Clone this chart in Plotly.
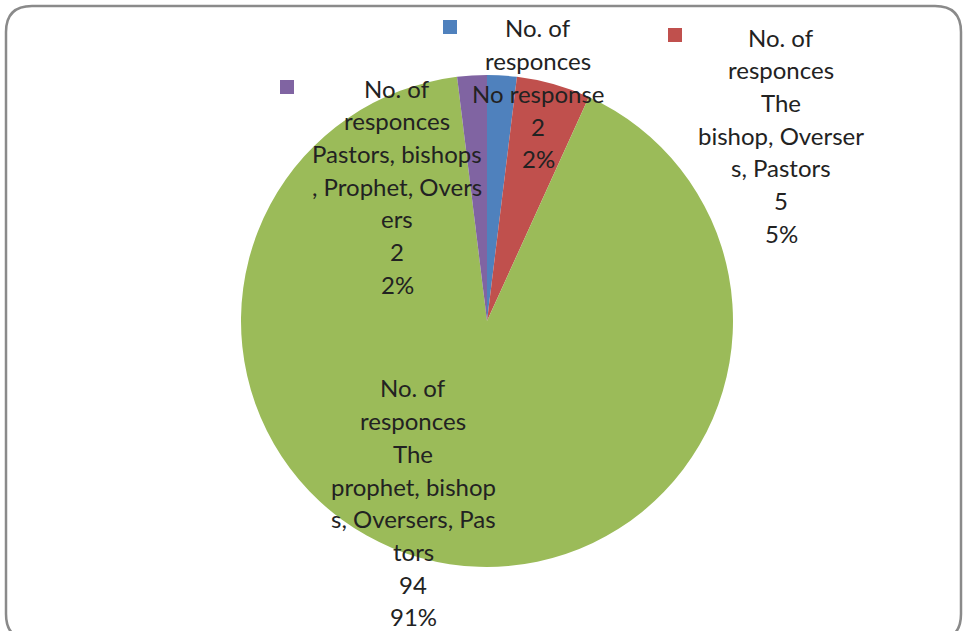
import plotly.graph_objects as go

# ---- data ----
series_name = "No. of responces"
categories = [
    "No response",
    "The bishop, Oversers, Pastors",
    "The prophet, bishops, Oversers, Pastors",
    "Pastors, bishops, Prophet, Oversers",
]
values = [2, 5, 94, 2]
colors = ["#4F81BD", "#C0504D", "#9BBB59", "#8064A2"]
# label text as wrapped in the original chart
series_lines = ["No. of", "responces"]
category_lines = [
    ["No response"],
    ["The", "bishop, Overser", "s, Pastors"],
    ["The", "prophet, bishop", "s, Oversers, Pas", "tors"],
    ["Pastors, bishops", ", Prophet, Overs", "ers"],
]

# ---- layout constants (pixels) ----
W, H = 963, 631
cx, cy, r = 487, 321, 246
label_pos = [(538, 28), (781, 37), (413, 388), (397, 88)]  # center x, first line y
marker_pos = [(450, 27), (675, 35), None, (287, 87)]
line_step = 32.7
font_family = "Lato, Carlito, Calibri, sans-serif"
font_size = 24

def px(x):
    return x / W

def py(y):
    return 1 - y / H

fig = go.Figure(
    go.Pie(
        labels=categories,
        values=values,
        marker=dict(colors=colors, line=dict(width=0)),
        sort=False,
        direction="clockwise",
        rotation=0,
        textinfo="none",
        domain=dict(x=[px(cx - r), px(cx + r)], y=[py(cy + r), py(cy - r)]),
        hovertemplate="%{label}<br>%{value}<br>%{percent}<extra></extra>",
    )
)

total = sum(values)
annotations = []
shapes = []
for i, cat in enumerate(categories):
    pct = f"{round(values[i] / total * 100)}%"
    lines = series_lines + category_lines[i] + [str(values[i]), pct]
    lx, ly = label_pos[i]
    for k, t in enumerate(lines):
        annotations.append(dict(
            x=px(lx), y=py(ly + k * line_step), xref="paper", yref="paper",
            text=t, showarrow=False, xanchor="center", yanchor="middle",
            font=dict(family=font_family, size=font_size, color="#222222"),
        ))
    mp = marker_pos[i]
    if mp is not None:
        mx, my = mp
        shapes.append(dict(
            type="rect", xref="paper", yref="paper",
            x0=px(mx - 7), x1=px(mx + 7), y0=py(my + 7), y1=py(my - 7),
            fillcolor=colors[i], line=dict(width=0),
        ))

# rounded chart border
L, T, R, B, rad = 6, 6, 961, 640, 26
path = (
    f"M {px(L)},{py(T + rad)} Q {px(L)},{py(T)} {px(L + rad)},{py(T)} "
    f"L {px(R - rad)},{py(T)} Q {px(R)},{py(T)} {px(R)},{py(T + rad)} "
    f"L {px(R)},{py(B - rad)} Q {px(R)},{py(B)} {px(R - rad)},{py(B)} "
    f"L {px(L + rad)},{py(B)} Q {px(L)},{py(B)} {px(L)},{py(B - rad)} Z"
)
shapes.append(dict(type="path", xref="paper", yref="paper", path=path,
                   line=dict(color="#8a8a8a", width=2.5), layer="below"))

fig.update_layout(
    width=W, height=H,
    margin=dict(l=0, r=0, t=0, b=0),
    paper_bgcolor="white", plot_bgcolor="white",
    showlegend=False,
    annotations=annotations,
    shapes=shapes,
)

fig.write_html(
    "out.html",
    config={"displayModeBar": False},
    post_script="document.body.style.margin='0px';document.body.style.overflow='hidden';",
)
